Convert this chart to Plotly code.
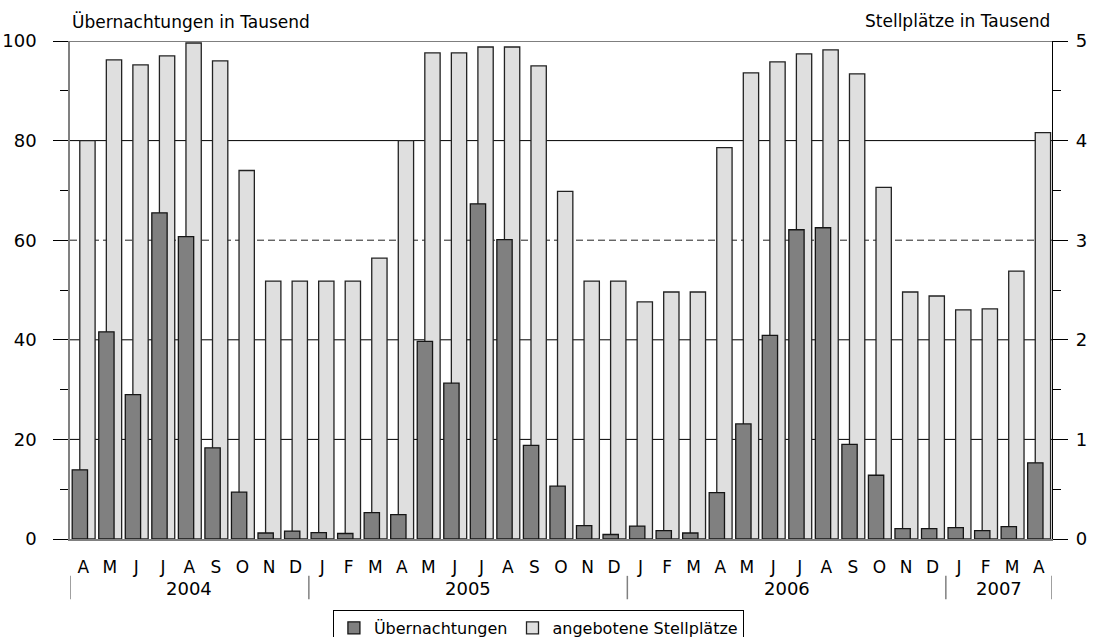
import plotly.graph_objects as go

months = ["A", "M", "J", "J", "A", "S", "O", "N", "D",
          "J", "F", "M", "A", "M", "J", "J", "A", "S", "O", "N", "D",
          "J", "F", "M", "A", "M", "J", "J", "A", "S", "O", "N", "D",
          "J", "F", "M", "A"]
years = ["2004", "2005", "2006", "2007"]
months_per_year = [9, 12, 12, 4]

uebernachtungen = [13.9, 41.6, 29.0, 65.5, 60.7, 18.3, 9.4, 1.2, 1.6,
                   1.3, 1.1, 5.3, 4.9, 39.7, 31.3, 67.3, 60.1, 18.8, 10.6, 2.7, 0.9,
                   2.6, 1.7, 1.2, 9.3, 23.1, 40.9, 62.1, 62.5, 19.0, 12.8, 2.1, 2.1,
                   2.3, 1.7, 2.5, 15.3]
stellplaetze = [4.00, 4.81, 4.76, 4.85, 4.98, 4.80, 3.70, 2.59, 2.59,
                2.59, 2.59, 2.82, 4.00, 4.88, 4.88, 4.94, 4.94, 4.75, 3.49, 2.59, 2.59,
                2.38, 2.48, 2.48, 3.93, 4.68, 4.79, 4.87, 4.91, 4.67, 3.53, 2.48, 2.44,
                2.30, 2.31, 2.69, 4.08]

left_ticks = [0, 20, 40, 60, 80, 100]
right_ticks = [0, 1, 2, 3, 4, 5]

FONT = "DejaVu Sans"
x = list(range(len(months)))

fig = go.Figure()
fig.add_trace(go.Bar(
    x=x, y=stellplaetze, name="angebotene Stellplätze", yaxis="y",
    offset=-0.131, width=0.577,
    marker=dict(color="#dfdfdf", line=dict(color="#222222", width=1.3)),
    legendrank=2,
))
fig.add_trace(go.Bar(
    x=x, y=uebernachtungen, name="Übernachtungen", yaxis="y2",
    offset=-0.417, width=0.577,
    marker=dict(color="#808080", line=dict(color="#151515", width=1.3)),
    legendrank=1,
))

shapes = []
for v in right_ticks[1:]:
    shapes.append(dict(type="line", xref="paper", yref="y", x0=0, x1=1, y0=v, y1=v,
                       layer="below",
                       line=dict(color="#222222" if v == 3 else "black", width=1,
                                 dash="7px,4px" if v == 3 else "solid")))

annotations = []
start = 0
bounds = [-0.5]
for yr, n in zip(years, months_per_year):
    center = start + (n - 1) / 2
    annotations.append(dict(text=yr, x=center, xref="x", y=-0.1004, yref="paper",
                            yanchor="middle", xanchor="center", showarrow=False,
                            font=dict(size=18, color="black", family=FONT)))
    start += n
    bounds.append(start - 0.5)
for b in bounds:
    shapes.append(dict(type="line", xref="x", yref="paper", x0=b, x1=b,
                       y0=-0.074, y1=-0.121, line=dict(color="#808080", width=1.5)))

annotations.append(dict(text="Übernachtungen in Tausend", x=0, xref="paper", xanchor="left",
                        y=1.04, yref="paper", yanchor="middle", showarrow=False,
                        font=dict(size=17, color="black", family=FONT)))
annotations.append(dict(text="Stellplätze in Tausend", x=1, xref="paper", xanchor="right",
                        y=1.04, yref="paper", yanchor="middle", showarrow=False,
                        font=dict(size=17, color="black", family=FONT)))

fig.update_layout(
    width=1094, height=637,
    margin=dict(l=70, r=42, t=41, b=98),
    paper_bgcolor="white", plot_bgcolor="white",
    barmode="overlay",
    font=dict(family=FONT, color="black", size=17),
    xaxis=dict(range=[-0.5, len(months) - 0.5], tickmode="array", tickvals=x,
               ticktext=months, ticks="", showgrid=False, zeroline=False,
               showline=True, linecolor="#808080", linewidth=1.5, automargin=False,
               tickfont=dict(size=17, family=FONT), ticklabelstandoff=12),
    yaxis=dict(range=[0, 5], side="right", tickvals=right_ticks, showgrid=False,
               zeroline=False, showline=True, linecolor="black", linewidth=1.2,
               ticks="outside", ticklen=15, tickcolor="black", tickwidth=1,
               automargin=False,
               minor=dict(dtick=0.5, ticklen=8, tickcolor="black", ticks="outside"),
               tickfont=dict(size=18, family=FONT), ticklabelstandoff=4),
    yaxis2=dict(range=[0, 100], side="left", overlaying="y", tickvals=left_ticks,
                showgrid=False, zeroline=False, showline=True, linecolor="#808080",
                linewidth=1.5, ticks="outside", ticklen=15, tickcolor="black", tickwidth=1,
                automargin=False,
                minor=dict(dtick=10, ticklen=8, tickcolor="black", ticks="outside"),
                tickfont=dict(size=18, family=FONT), ticklabelstandoff=13),
    legend=dict(orientation="h", x=0.477, xanchor="center",
                yref="container", y=0.0424, yanchor="top",
                bordercolor="black", borderwidth=1, bgcolor="white",
                font=dict(size=16, family=FONT), traceorder="normal"),
    shapes=shapes, annotations=annotations,
)

fig.write_html("out.html", config={"displayModeBar": False},
               post_script="document.body.style.margin='0';")
